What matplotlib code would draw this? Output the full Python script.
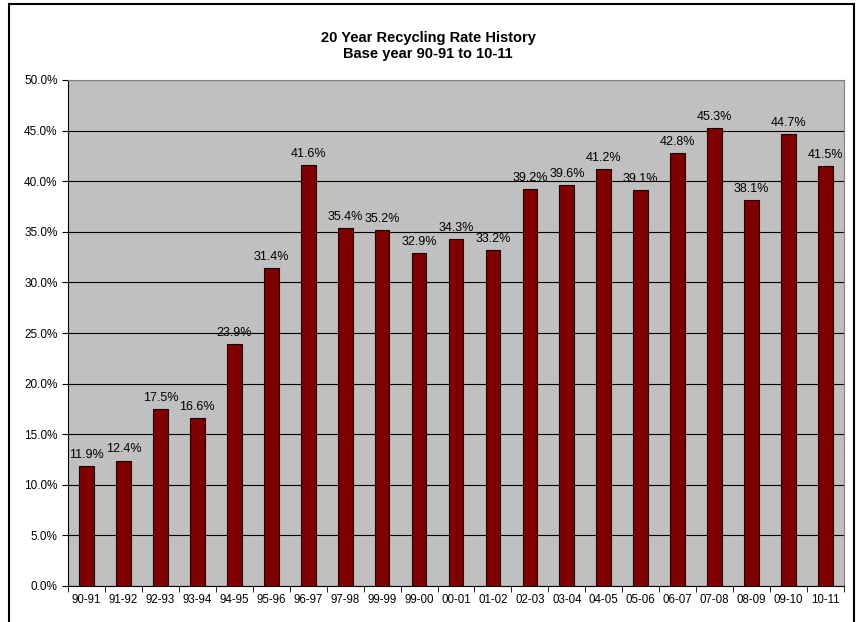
import matplotlib.pyplot as plt
from matplotlib.patches import Rectangle
import numpy as np

years = ['90-91', '91-92', '92-93', '93-94', '94-95', '95-96', '96-97', '97-98',
         '99-99', '99-00', '00-01', '01-02', '02-03', '03-04', '04-05', '05-06',
         '06-07', '07-08', '08-09', '09-10', '10-11']
rates = [11.9, 12.4, 17.5, 16.6, 23.9, 31.4, 41.6, 35.4, 35.2, 32.9, 34.3,
         33.2, 39.2, 39.6, 41.2, 39.1, 42.8, 45.3, 38.1, 44.7, 41.5]

plt.rcParams['font.family'] = ['Liberation Sans', 'DejaVu Sans']

fig = plt.figure(figsize=(8.56, 6.22), dpi=100)
ax = fig.add_axes([68 / 856, 36 / 622, (844 - 68) / 856, (586 - 80) / 622])
ax.set_facecolor('#C0C0C0')

x = np.arange(len(years))
bars = ax.bar(x, rates, width=0.4, color='#800000', edgecolor='#1a0000',
              linewidth=0.8, zorder=3)
for xi, v in zip(x, rates):
    ax.text(xi, v + 0.5, f'{v:.1f}%', ha='center', va='bottom', fontsize=9)

ax.set_xlim(-0.5, len(years) - 0.5)
ax.set_ylim(0, 50)
ax.set_yticks(np.arange(0, 50.1, 5))
ax.set_yticklabels([f'{t:.1f}%' for t in np.arange(0, 50.1, 5)], fontsize=8.5)
ax.set_xticks(x)
ax.set_xticklabels(years, fontsize=8.3)
ax.set_xticks(np.arange(-0.5, len(years), 1), minor=True)
ax.tick_params(axis='x', which='major', length=0, pad=6)
ax.tick_params(axis='x', which='minor', length=4, direction='out')
ax.tick_params(axis='y', length=4, direction='out')
ax.yaxis.grid(True, color='black', linewidth=0.8, zorder=1)
ax.set_axisbelow(True)
for s in ['top', 'right']:
    ax.spines[s].set_color('#808080')
for s in ['left', 'bottom']:
    ax.spines[s].set_color('black')

fig.text(0.5, 1 - 46 / 622, '20 Year Recycling Rate History\nBase year 90-91 to 10-11',
         ha='center', va='center', fontsize=10.5, fontweight='bold', linespacing=1.15)

fig.patches.append(Rectangle((9 / 856, -0.05), (854 - 9) / 856, 1.05 - 4 / 622,
                             transform=fig.transFigure, fill=False,
                             edgecolor='black', linewidth=1.5))

fig.savefig('out.png', dpi=100)
